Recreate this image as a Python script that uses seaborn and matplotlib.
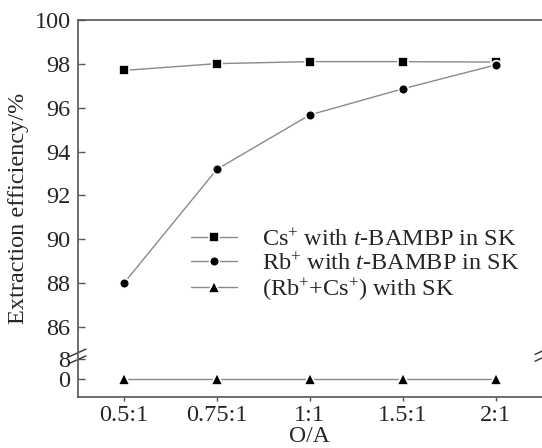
import numpy as np
import pandas as pd
import matplotlib
matplotlib.use("Agg")
import matplotlib.pyplot as plt
import seaborn as sns

# Datos
ratios = ["0.5:1", "0.75:1", "1:1", "1.5:1", "2:1"]
cs_tbambp = [97.70, 98.01, 98.10, 98.10, 98.08]
rb_tbambp = [88.00, 93.19, 95.67, 96.86, 97.95]
rbcs_sk = [0.0, 0.0, 0.0, 0.0, 0.0]
labels = [r"Cs$^{+}$ with $\it{t}$-BAMBP in SK",
          r"Rb$^{+}$ with $\it{t}$-BAMBP in SK",
          r"(Rb$^{+}$+Cs$^{+}$) with SK"]
yticks = [0, 8, 86, 88, 90, 92, 94, 96, 98, 100]

sns.set_style("ticks")
plt.rcParams["font.family"] = ["Liberation Serif", "DejaVu Serif"]
plt.rcParams["mathtext.fontset"] = "custom"
plt.rcParams["mathtext.rm"] = "Liberation Serif"
plt.rcParams["mathtext.it"] = "Liberation Serif:italic"

df = pd.DataFrame({"O/A": ratios, "cs": cs_tbambp, "rb": rb_tbambp, "sk": rbcs_sk})

fig = plt.figure(figsize=(5.42, 4.48), dpi=100)
ax = fig.add_axes([0.143, 0.1138, 0.857, 0.8416])

# eje y roto: 0-8 comprimido abajo, 85-100 arriba
yp = [-1000, 8, 85, 1000]
tp = [83.63 - 114.0, 84.54, 85, 1000]
fwd = lambda y: np.interp(y, yp, tp)
inv = lambda t: np.interp(t, tp, yp)

estilos = [("cs", "s", 6.5), ("rb", "o", 7), ("sk", "^", 8)]
for (col, mk, ms), lab in zip(estilos, labels):
    sns.lineplot(data=df, x="O/A", y=col, ax=ax, sort=False, color="#8a8a8a",
                 linewidth=1.0, marker=mk, markersize=ms, markerfacecolor="black",
                 markeredgecolor="white", markeredgewidth=1.2, label=lab)

ax.set_yscale("function", functions=(fwd, inv))
ax.set_ylim(-7.2, 100)
ax.set_xlim(-0.5, 4.5)
ax.set_yticks(yticks)
ax.set_yticklabels([str(v) for v in yticks])
ax.tick_params(axis="y", direction="in", length=5, width=1, pad=5, labelsize=17.5, color="#555555")
ax.tick_params(axis="x", direction="out", length=3, width=1, pad=3, labelsize=17.5, color="#555555")
ax.set_xlabel("O/A", fontsize=17, labelpad=0)
ax.set_ylabel("Extraction efficiency/%", fontsize=17.5, labelpad=4)

ax.spines["right"].set_visible(False)
for s in ["left", "bottom", "top"]:
    ax.spines[s].set_color("#555555")
    ax.spines[s].set_linewidth(1.2)

# marcas de corte
for dy in (0.0, 0.018):
    ax.plot([-0.018, 0.018], [0.089 + dy, 0.109 + dy], transform=ax.transAxes,
            color="#333333", linewidth=1.0, clip_on=False)
    ax.plot([0.985, 1.02], [0.095 + dy, 0.115 + dy], transform=ax.transAxes,
            color="#333333", linewidth=1.0, clip_on=False)

ax.legend(loc="center left", bbox_to_anchor=(0.245, 0.348), frameon=False,
          fontsize=17.5, handlelength=1.9, handletextpad=1.0, labelspacing=0.07,
          borderpad=0, borderaxespad=0)

fig.savefig("out.png", dpi=100)
